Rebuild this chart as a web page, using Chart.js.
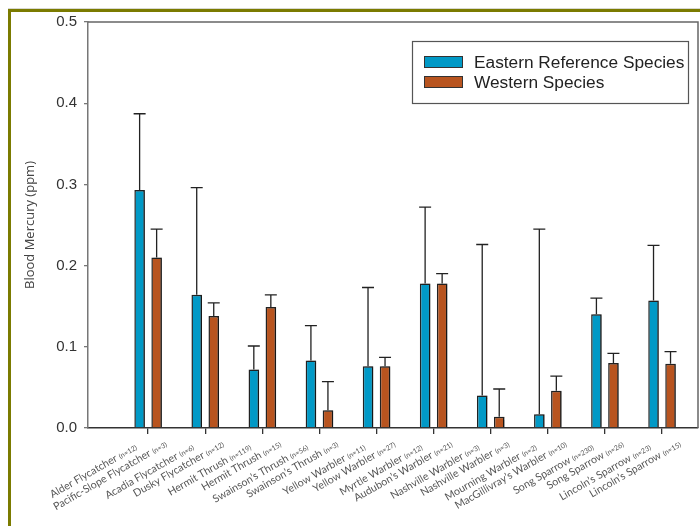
<!DOCTYPE html>
<html><head><meta charset="utf-8">
<script src="https://cdn.jsdelivr.net/npm/chart.js@4/dist/chart.umd.min.js"></script>
<style>html,body{margin:0;padding:0;background:#fff;}canvas{display:block;}</style>
</head><body>
<canvas id="c" width="700" height="526"></canvas>
<script>
const pairIndex = [0,1,2,3,4,5,6,7,8,9];
const easternSpecies = ['Alder Flycatcher','Acadia Flycatcher','Hermit Thrush','Swainson\u2019s Thrush','Yellow Warbler','Myrtle Warbler','Nashville Warbler','Mourning Warbler','Song Sparrow','Lincoln\u2019s Sparrow'];
const easternN = [12,6,119,56,11,12,3,2,230,23];
const westernSpecies = ['Pacific-Slope Flycatcher','Dusky Flycatcher','Hermit Thrush','Swainson\u2019s Thrush','Yellow Warbler','Audubon\u2019s Warbler','Nashville Warbler','MacGillivray\u2019s Warbler','Song Sparrow','Lincoln\u2019s Sparrow'];
const westernN = [3,12,15,3,27,21,3,10,26,15];
const easternMean  = [0.293,0.164,0.072,0.083,0.076,0.178,0.040,0.017,0.140,0.157];
const easternUpper = [0.387,0.296,0.101,0.126,0.173,0.272,0.226,0.245,0.160,0.225];
const westernMean  = [0.210,0.138,0.149,0.022,0.076,0.178,0.014,0.046,0.080,0.079];
const westernUpper = [0.245,0.154,0.164,0.057,0.087,0.190,0.048,0.064,0.092,0.094];
const yTicks = [0,0.1,0.2,0.3,0.4,0.5];
const seriesNames = ['Eastern Reference Species','Western Species'];

const BLUE = '#0199c6', ORANGE = '#b8541f';

const framePlugin = {
  id: 'frame',
  beforeDraw(chart) {
    const ctx = chart.ctx;
    ctx.save();
    ctx.fillStyle = '#fff';
    ctx.fillRect(0, 0, chart.width, chart.height);
    ctx.strokeStyle = '#d8d8d0'; ctx.lineWidth = 1;
    ctx.beginPath(); ctx.moveTo(8, 8.5); ctx.lineTo(chart.width, 8.5); ctx.stroke();
    ctx.strokeStyle = '#7b7b00'; ctx.lineWidth = 3;
    ctx.beginPath();
    ctx.moveTo(chart.width, 10.5); ctx.lineTo(9.5, 10.5); ctx.lineTo(9.5, chart.height);
    ctx.stroke();
    ctx.restore();
  },
  afterDraw(chart) {
    const ctx = chart.ctx, a = chart.chartArea;
    ctx.save();
    ctx.strokeStyle = '#666'; ctx.lineWidth = 1.5;
    ctx.beginPath();
    ctx.moveTo(a.left, a.top); ctx.lineTo(a.right, a.top); ctx.lineTo(a.right, a.bottom);
    ctx.stroke();
    ctx.restore();
  }
};

const shadowPlugin = {
  id: 'shadow',
  beforeDatasetsDraw(chart) {
    const ctx = chart.ctx;
    ctx.save();
    ctx.shadowColor = 'rgba(0,0,0,0.35)';
    ctx.shadowOffsetX = 2; ctx.shadowOffsetY = 0; ctx.shadowBlur = 1;
  },
  afterDatasetsDraw(chart) { chart.ctx.restore(); }
};

const errorPlugin = {
  id: 'errbars',
  afterDatasetsDraw(chart) {
    const ctx = chart.ctx, ys = chart.scales.y;
    const uppers = [easternUpper, westernUpper];
    ctx.save();
    ctx.strokeStyle = '#222'; ctx.lineWidth = 1.3;
    [0,1].forEach(d => {
      chart.getDatasetMeta(d).data.forEach((bar, i) => {
        const yt = ys.getPixelForValue(uppers[d][i]);
        ctx.beginPath();
        ctx.moveTo(bar.x, bar.y); ctx.lineTo(bar.x, yt);
        ctx.moveTo(bar.x - 6, yt); ctx.lineTo(bar.x + 6, yt);
        ctx.stroke();
      });
    });
    ctx.restore();
  }
};

const legendPlugin = {
  id: 'boxLegend',
  afterDraw(chart) {
    const ctx = chart.ctx, a = chart.chartArea;
    const bx = a.right - 286, by = a.top + 19, bw = 276, bh = 62;
    ctx.save();
    ctx.fillStyle = '#fff'; ctx.fillRect(bx, by, bw, bh);
    ctx.strokeStyle = '#555'; ctx.lineWidth = 1.2; ctx.strokeRect(bx + 0.5, by + 0.5, bw, bh);
    chart.data.datasets.forEach((ds, i) => {
      const cy = by + 21 + i * 20;
      ctx.fillStyle = ds.backgroundColor;
      ctx.fillRect(bx + 12, cy - 6, 39, 12);
      ctx.strokeStyle = '#333'; ctx.lineWidth = 1;
      ctx.strokeRect(bx + 12.5, cy - 5.5, 38, 11);
      ctx.fillStyle = '#222';
      ctx.font = '17.3px "Liberation Sans", Arial, sans-serif';
      ctx.textBaseline = 'middle'; ctx.textAlign = 'left';
      ctx.fillText(ds.label, bx + 62, cy + 1);
    });
    ctx.restore();
  }
};

const labelPlugin = {
  id: 'speciesLabels',
  afterDraw(chart) {
    const ctx = chart.ctx, a = chart.chartArea;
    const sets = [[easternSpecies, easternN, -2, 21], [westernSpecies, westernN, 11, 18]];
    ctx.save();
    ctx.fillStyle = '#555';
    [0,1].forEach(d => {
      chart.getDatasetMeta(d).data.forEach((bar, i) => {
        ctx.save();
        ctx.translate(bar.x + sets[d][2], a.bottom + sets[d][3]);
        ctx.rotate(-Math.PI / 6);
        ctx.textBaseline = 'alphabetic'; ctx.textAlign = 'right';
        const nt = '(n=' + sets[d][1][i] + ')';
        ctx.font = '7px Lato, "Open Sans", sans-serif';
        ctx.fillText(nt, 0, 0);
        const w = ctx.measureText(nt).width;
        ctx.font = '10.6px Lato, "Open Sans", sans-serif';
        ctx.fillText(sets[d][0][i] + ' ', -w, 0);
        ctx.restore();
      });
    });
    ctx.restore();
  }
};

new Chart(document.getElementById('c'), {
  type: 'bar',
  data: {
    datasets: [
      { label: seriesNames[0], data: pairIndex.map((x, i) => ({ x, y: easternMean[i] })),
        backgroundColor: BLUE, borderColor: '#222', borderWidth: 1.5 },
      { label: seriesNames[1], data: pairIndex.map((x, i) => ({ x, y: westernMean[i] })),
        backgroundColor: ORANGE, borderColor: '#222', borderWidth: 1.5 }
    ]
  },
  options: {
    responsive: false, animation: false, devicePixelRatio: 1,
    categoryPercentage: 0.596, barPercentage: 0.62,
    layout: { padding: { left: 10, top: 22, right: 2, bottom: 0 } },
    plugins: { legend: { display: false }, tooltip: { enabled: false } },
    scales: {
      x: {
        type: 'linear', min: -1.053, max: 9.63, offset: false,
        afterBuildTicks: s => { s.ticks = pairIndex.map(v => ({ value: v })); },
        afterFit: s => { s.height = 98; },
        ticks: { display: false },
        grid: { offset: false, drawOnChartArea: false, drawTicks: true, tickLength: 6, color: '#333', lineWidth: 1.3 },
        border: { color: '#333', width: 1.5 }
      },
      y: {
        min: 0, max: 0.5,
        afterBuildTicks: s => { s.ticks = yTicks.map(v => ({ value: v })); },
        afterFit: s => { s.width = 78; },
        ticks: { callback: v => v.toFixed(1), font: { family: '"Liberation Sans", Arial, sans-serif', size: 15 }, color: '#333', padding: 7 },
        grid: { drawOnChartArea: false, drawTicks: true, tickLength: 4, color: '#777', lineWidth: 1.3 },
        border: { color: '#777', width: 1.5 },
        title: { display: true, text: 'Blood Mercury (ppm)', color: '#444',
                 font: { family: '"Open Sans", Lato, sans-serif', size: 13 }, padding: { top: 12, bottom: 0 } }
      }
    }
  },
  plugins: [framePlugin, shadowPlugin, errorPlugin, legendPlugin, labelPlugin]
});
</script>
</body></html>
